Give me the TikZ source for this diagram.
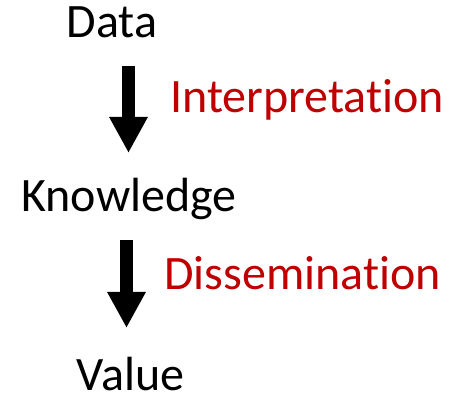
\documentclass[tikz,border=0pt]{standalone}
\usepackage{fontspec}
\setmainfont[Ligatures=NoCommon]{Carlito}
\usetikzlibrary{arrows.meta}
\definecolor{stepred}{RGB}{192,0,0}

\begin{document}
\begin{tikzpicture}[
        x=1pt, y=1pt,
        font=\fontsize{48}{50}\selectfont,
        stage/.style={inner sep=0pt, anchor=base, text=black},
        act/.style={inner sep=0pt, anchor=base west, text=stepred},
        flow/.style={line width=13pt, -{Triangle[width=36pt, length=36pt]}}
    ]
        \useasboundingbox (0,0) rectangle (467,-396);

        \node[stage] (data) at (112,-38) {Data};
        \node[stage] (know) at (129,-212) {Knowledge};
        \node[stage] (value) at (130.5,-391) {Value};

        \node[act] (interp) at (170,-113) {Interpretation};
        \node[act] (dissem) at (164,-290) {Dissemination};

        % block arrows between the stages
        \coordinate (f1s) at (128.5,-66);
        \coordinate (f1e) at (128.5,-153);
        \coordinate (f2s) at (126.5,-240);
        \coordinate (f2e) at (126.5,-328);

        \draw[flow] (f1s) -- (f1e);
        \draw[flow] (f2s) -- (f2e);
    \end{tikzpicture}
\end{document}
